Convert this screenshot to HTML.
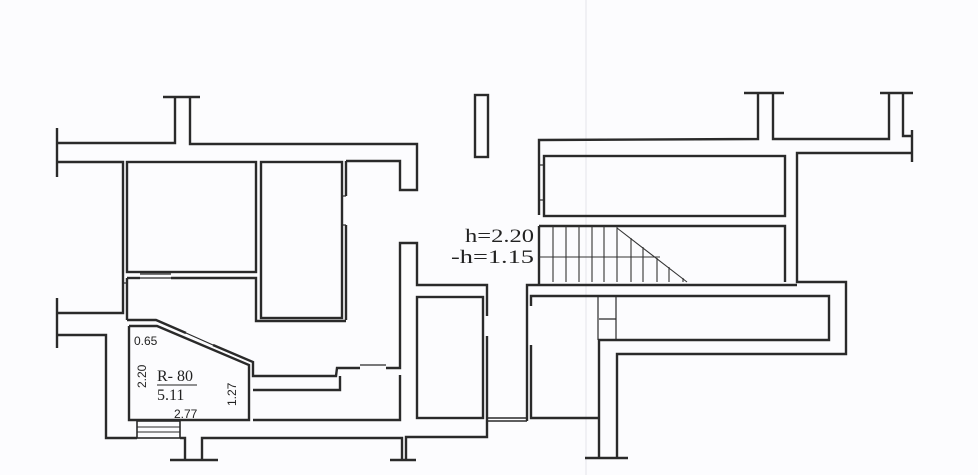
<!DOCTYPE html>
<html><head><style>
html,body{margin:0;padding:0;background:#fdfdfe;}
svg{display:block}
text{font-family:"Liberation Serif",serif;fill:#222}
.s{font-family:"Liberation Sans",sans-serif;font-size:12px}
</style></head><body>
<svg width="978" height="475" viewBox="0 0 978 475" xmlns="http://www.w3.org/2000/svg">
<rect width="978" height="475" fill="#fcfcfe"/>
<line x1="586" y1="0" x2="586" y2="475" stroke="#e4e4ea" stroke-width="1"/>
<g fill="none" stroke="#2a2a2a" stroke-width="2.4" stroke-linejoin="miter">
<line x1="57" y1="128" x2="57" y2="177"/>
<polyline points="57,143 175,143 175,97"/>
<line x1="163" y1="97" x2="200" y2="97"/>
<polyline points="190,97 190,144 417,144 417,190 400,190 400,161 346,161"/>
<polyline points="57,162 123,162 123,313 57,313"/>
<line x1="57" y1="298" x2="57" y2="348"/>
<polyline points="57,335 106,335 106,438 137,438"/>
<polyline points="180,438 185,438 185,460"/>
<line x1="170" y1="460" x2="218" y2="460"/>
<polyline points="202,460 202,438 402,438 402,460"/>
<line x1="390" y1="460" x2="416" y2="460"/>
<polyline points="406,460 406,437 487,437 487,418"/>
<rect x="137" y="421" width="43" height="17" stroke-width="1.6"/>
<line x1="137" y1="427" x2="180" y2="427" stroke-width="1"/>
<line x1="137" y1="432" x2="180" y2="432" stroke-width="1"/>
<rect x="127" y="162" width="129" height="110"/>
<rect x="261" y="162" width="81" height="156"/>
<line x1="346" y1="161" x2="346" y2="196"/>
<line x1="346" y1="225" x2="346" y2="320"/>
<line x1="342" y1="196" x2="346" y2="196" stroke-width="1.2"/>
<line x1="342" y1="225" x2="346" y2="225" stroke-width="1.2"/>
<polyline points="127,278 140,278"/>
<polyline points="171,278 256,278 256,321 346,321"/>
<line x1="140" y1="274" x2="171" y2="274" stroke-width="1.2"/>
<line x1="140" y1="278" x2="171" y2="278" stroke-width="1.2"/>
<polyline points="127,278 127,320"/>
<line x1="123" y1="283" x2="127" y2="283" stroke-width="1.2"/>
<polyline points="127,320 156,320 186,333"/>
<polyline points="213,345 253,362 253,376 336,376 337,368 360,368"/>
<polyline points="386,368 400,368 400,243 417,243 417,285 487,285 487,316"/>
<line x1="487" y1="336" x2="487" y2="418"/>
<line x1="186" y1="333" x2="213" y2="345" stroke-width="1.2"/>
<polyline points="129,326 157,326 249,365 249,420 129,420 129,326"/>
<polyline points="253,390 340,390 340,376"/>
<polyline points="253,420 400,420 400,375"/>
<line x1="360" y1="365" x2="386" y2="365" stroke-width="1.2"/>
<rect x="417" y="297" width="66" height="121"/>
<line x1="487" y1="418" x2="527" y2="418" stroke-width="1.4"/>
<line x1="487" y1="421" x2="527" y2="421" stroke-width="1.4"/>
<rect x="475" y="95" width="13" height="62"/>
<polyline points="539,215 539,140 758,139 758,93"/>
<line x1="744" y1="93" x2="784" y2="93"/>
<polyline points="773,93 773,139 889,139 889,93"/>
<line x1="880" y1="93" x2="913" y2="93"/>
<polyline points="903,93 903,136 912,136"/>
<line x1="912" y1="130" x2="912" y2="162"/>
<polyline points="912,153 797,153 797,282 846,282 846,354 617,354 617,458"/>
<line x1="585" y1="458" x2="628" y2="458"/>
<polyline points="599,458 599,340 829,340 829,296 531,296 531,306"/>
<polyline points="531,345 531,418 599,418"/>
<polyline points="527,421 527,285 797,285"/>
<rect x="544" y="156" width="241" height="60"/>
<polyline points="539,226 785,226 785,282"/>
<line x1="539" y1="226" x2="539" y2="285"/>
<line x1="540" y1="165" x2="544" y2="165" stroke-width="1.2"/>
<line x1="540" y1="200" x2="544" y2="200" stroke-width="1.2"/>
<polyline points="598,297 598,340" stroke-width="1.2"/>
<polyline points="616,297 616,340" stroke-width="1.2"/>
<line x1="599" y1="319" x2="616" y2="319" stroke-width="1.2"/>
</g>
<g stroke="#333" stroke-width="1.1">
<line x1="553" y1="226" x2="553" y2="282"/><line x1="566" y1="226" x2="566" y2="282"/>
<line x1="579" y1="226" x2="579" y2="282"/><line x1="592" y1="226" x2="592" y2="282"/>
<line x1="604" y1="226" x2="604" y2="282"/><line x1="617" y1="226" x2="617" y2="282"/>
<line x1="631" y1="238" x2="631" y2="282"/><line x1="643" y1="247" x2="643" y2="282"/>
<line x1="657" y1="258" x2="657" y2="282"/><line x1="669" y1="267" x2="669" y2="282"/>
<line x1="683" y1="278" x2="683" y2="282"/>
<line x1="539" y1="257" x2="660" y2="257"/>
<line x1="617" y1="228" x2="687" y2="282"/>
</g>
<text x="465" y="242" font-size="19" textLength="69" lengthAdjust="spacingAndGlyphs">h=2.20</text>
<text x="451" y="263" font-size="19" textLength="83" lengthAdjust="spacingAndGlyphs">-h=1.15</text>
<text x="157" y="381" font-size="16">R- 80</text>
<line x1="157" y1="385" x2="197" y2="385" stroke="#222" stroke-width="1"/>
<text x="157" y="400" font-size="16">5.11</text>
<text class="s" x="134" y="345">0.65</text>
<text class="s" x="174" y="418">2.77</text>
<text class="s" transform="translate(146,388) rotate(-90)">2.20</text>
<text class="s" transform="translate(236,406) rotate(-90)">1.27</text>
</svg>
</body></html>
